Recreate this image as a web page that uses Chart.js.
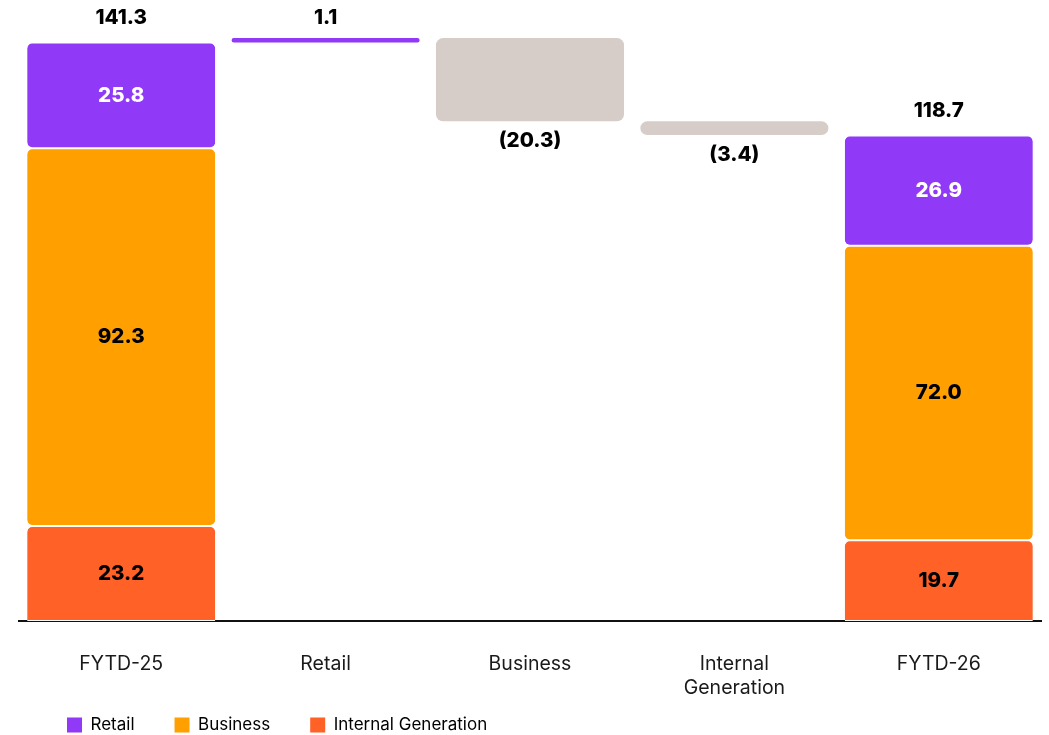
<!DOCTYPE html>
<html>
<head>
<meta charset="utf-8">
<script src="https://cdn.jsdelivr.net/npm/chart.js@4"></script>
<style>
  html, body { margin: 0; padding: 0; background: #fff; }
  #wrap { width: 1049px; height: 735px; position: relative; }
</style>
</head>
<body>
<div id="wrap"><canvas id="c"></canvas></div>
<script>
// ---- data ----
const categories = ['FYTD-25', 'Retail', 'Business', 'Internal Generation', 'FYTD-26'];
const tickLabels = ['FYTD-25', 'Retail', 'Business', ['Internal', 'Generation'], 'FYTD-26'];
const internalGenValues = [23.2, null, null, null, 19.7];
const businessValues = [92.3, null, null, null, 72.0];
const retailValues = [25.8, null, null, null, 26.9];
const totals = [141.3, null, null, null, 118.7];
const changes = [null, 1.1, -20.3, -3.4, null];

const COLORS = {
  retail: '#9039F7',
  business: '#FFA000',
  internal: '#FF6127',
  change: '#D6CDC8'
};

// build floating segments from the arrays
const igBars = internalGenValues.map(v => v == null ? null : [0, v]);
const busBars = businessValues.map((v, i) => v == null ? null : [internalGenValues[i], internalGenValues[i] + v]);
const retBars = retailValues.map((v, i) => v == null ? null : [internalGenValues[i] + businessValues[i], internalGenValues[i] + businessValues[i] + v]);
let running = totals[0];
const changeBars = changes.map(v => {
  if (v == null) return null;
  const start = running;
  running = running + v;
  return [start, running];
});
const changeColors = changes.map(v => v == null ? 'rgba(0,0,0,0)' : (v > 0 ? COLORS.retail : COLORS.change));

const FONT = "Inter, 'Noto Sans', 'DejaVu Sans', sans-serif";

const labelPlugin = {
  id: 'valueLabels',
  afterDatasetsDraw(chart) {
    const ctx = chart.ctx;
    const y = chart.scales.y;
    const x = chart.scales.x;
    ctx.save();
    ctx.font = `800 20.5px ${FONT}`;
    ctx.textAlign = 'center';
    ctx.textBaseline = 'middle';
    const segs = [[igBars, internalGenValues, '#000'], [busBars, businessValues, '#000'], [retBars, retailValues, '#fff']];
    segs.forEach(([bars, vals, col]) => {
      bars.forEach((b, i) => {
        if (!b) return;
        const cx = x.getPixelForValue(i);
        const cy = (y.getPixelForValue(b[0]) + y.getPixelForValue(b[1])) / 2;
        ctx.fillStyle = col;
        ctx.fillText(vals[i].toFixed(1), cx, cy);
      });
    });
    ctx.fillStyle = '#000';
    totals.forEach((t, i) => {
      if (t == null) return;
      const top = y.getPixelForValue(retBars[i][1]);
      ctx.fillText(t.toFixed(1), x.getPixelForValue(i), top - 25);
    });
    changeBars.forEach((b, i) => {
      if (!b) return;
      const v = changes[i];
      const cx = x.getPixelForValue(i);
      if (v > 0) {
        ctx.fillText(v.toFixed(1), cx, y.getPixelForValue(b[1]) - 20);
      } else {
        ctx.fillText('(' + Math.abs(v).toFixed(1) + ')', cx, y.getPixelForValue(b[1]) + 20);
      }
    });
    ctx.restore();
  }
};

const legendPosPlugin = {
  id: 'legendPos',
  afterLayout(chart) {
    const lg = chart.legend;
    if (lg) { lg.left = 27; lg.top = 676.5; }
  }
};

const segBorder = { top: 1, bottom: 1, left: 0, right: 0 };

new Chart(document.getElementById('c'), {
  type: 'bar',
  data: {
    labels: categories,
    datasets: [
      { label: 'Retail', data: retBars, backgroundColor: COLORS.retail, borderColor: '#fff', borderWidth: segBorder, borderRadius: 6, borderSkipped: false },
      { label: 'Business', data: busBars, backgroundColor: COLORS.business, borderColor: '#fff', borderWidth: segBorder, borderRadius: 6, borderSkipped: false },
      { label: 'Internal Generation', data: igBars, backgroundColor: COLORS.internal, borderColor: '#fff', borderWidth: segBorder,
        borderRadius: { topLeft: 6, topRight: 6, bottomLeft: 0, bottomRight: 0 }, borderSkipped: false },
      { label: 'Change', data: changeBars, backgroundColor: changeColors, borderWidth: 0, borderRadius: 7, borderSkipped: false }
    ]
  },
  options: {
    responsive: true,
    maintainAspectRatio: false,
    animation: false,
    layout: { padding: { top: 7, left: 19, right: 8, bottom: 0 } },
    datasets: { bar: { barPercentage: 1, categoryPercentage: 0.92 } },
    scales: {
      x: {
        stacked: true,
        z: 1,
        grid: { display: false, drawTicks: false },
        border: { display: true, color: '#111', width: 2 },
        ticks: {
          padding: 31,
          color: '#1a1a1a',
          font: { family: FONT, size: 19.5, weight: '400', lineHeight: 1.23 },
          callback: (v, i) => tickLabels[i],
          maxRotation: 0
        },
        afterFit(scale) { scale.height = 84; }
      },
      y: {
        display: false,
        stacked: false,
        min: 0,
        max: 150
      }
    },
    plugins: {
      tooltip: { enabled: false },
      legend: {
        position: 'bottom',
        align: 'start',
        maxHeight: 30,
        labels: {
          boxWidth: 15,
          boxHeight: 15,
          padding: 40,
          color: '#222',
          font: { family: FONT, size: 17 },
          filter: item => item.datasetIndex < 3,
          generateLabels(chart) {
            return chart.data.datasets.map((ds, i) => ({
              text: ds.label,
              fillStyle: ds.backgroundColor,
              strokeStyle: ds.backgroundColor,
              lineWidth: 0,
              hidden: false,
              datasetIndex: i
            }));
          }
        }
      }
    }
  },
  plugins: [labelPlugin, legendPosPlugin]
});
</script>
</body>
</html>
